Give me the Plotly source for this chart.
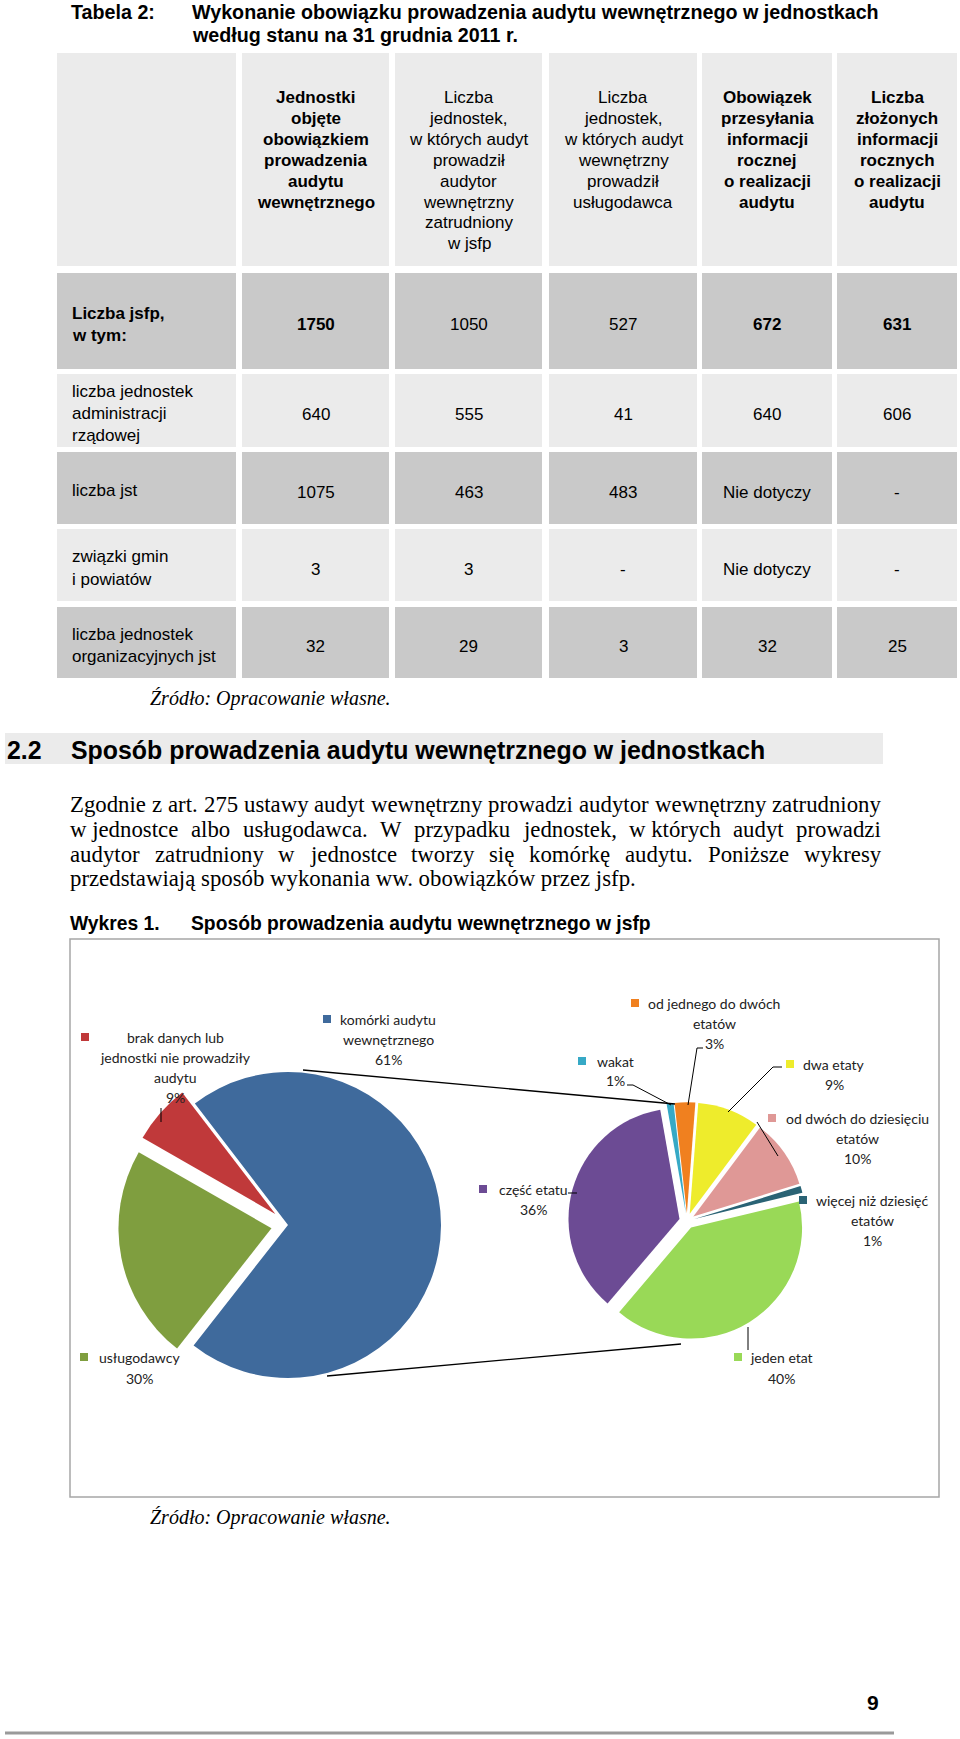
import plotly.graph_objects as go

W, H = 960, 1739

# ---------------- data ----------------
table_title = "Tabela 2:"
table_caption = ["Wykonanie obowiązku prowadzenia audytu wewnętrznego w jednostkach",
                 "według stanu na 31 grudnia 2011 r."]

header_cols = [
    ["Jednostki", "objęte", "obowiązkiem", "prowadzenia", "audytu", "wewnętrznego"],
    ["Liczba", "jednostek,", "w których audyt", "prowadził", "audytor", "wewnętrzny", "zatrudniony", "w jsfp"],
    ["Liczba", "jednostek,", "w których audyt", "wewnętrzny", "prowadził", "usługodawca"],
    ["Obowiązek", "przesyłania", "informacji", "rocznej", "o realizacji", "audytu"],
    ["Liczba", "złożonych", "informacji", "rocznych", "o realizacji", "audytu"],
]
header_bold = [True, False, False, True, True]

row_labels = [["Liczba jsfp,", "w tym:"],
              ["liczba jednostek", "administracji", "rządowej"],
              ["liczba jst"],
              ["związki gmin", "i powiatów"],
              ["liczba jednostek", "organizacyjnych jst"]]
col_objete = ["1750", "640", "1075", "3", "32"]
col_audytor = ["1050", "555", "463", "3", "29"]
col_uslugodawca = ["527", "41", "483", "-", "3"]
col_obowiazek = ["672", "640", "Nie dotyczy", "Nie dotyczy", "32"]
col_zlozone = ["631", "606", "-", "-", "25"]

# left pie (slice sizes as drawn) and its typed labels
left_names = ["komórki audytu wewnętrznego", "usługodawcy", "brak danych lub jednostki nie prowadziły audytu"]
left_values = [71.0, 22.7, 6.3]
left_labels_pct = ["61%", "30%", "9%"]
left_colors = ["#3f6a9c", "#7f9e3f", "#c0393a"]

# right pie
right_names = ["wakat", "od jednego do dwóch etatów", "dwa etaty", "od dwóch do dziesięciu etatów",
               "więcej niż dziesięć etatów", "jeden etat", "część etatu"]
right_values = [1, 3, 9, 10, 1, 40, 36]
right_colors = ["#36a9c6", "#f0801f", "#eeec2c", "#df9896", "#2a6375", "#99d957", "#6c4b94"]

paragraph = [
    ["Zgodnie", "z", "art.", "275", "ustawy", "audyt", "wewnętrzny", "prowadzi", "audytor", "wewnętrzny", "zatrudniony"],
    ["w jednostce", "albo", "usługodawca.", "W", "przypadku", "jednostek,", "w których", "audyt", "prowadzi"],
    ["audytor", "zatrudniony", "w", "jednostce", "tworzy", "się", "komórkę", "audytu.", "Poniższe", "wykresy"],
    ["przedstawiają sposób wykonania ww. obowiązków przez jsfp."],
]
justified = [True, True, True, False]

# ---------------- helpers ----------------
def X(x):
    return x / W

def Y(y):
    return 1 - y / H

SANS = "Liberation Sans, Arial, sans-serif"
SERIF = "Liberation Serif, Times New Roman, serif"
CAL = "Lato, Carlito, Calibri, sans-serif"

# Times / Liberation Serif advance widths (1/1000 em)
TW = {' ': 250, 'a': 444, 'b': 500, 'c': 444, 'd': 500, 'e': 444, 'f': 333, 'g': 500, 'h': 500, 'i': 278,
      'j': 278, 'k': 500, 'l': 278, 'm': 778, 'n': 500, 'o': 500, 'p': 500, 'q': 500, 'r': 333, 's': 389,
      't': 278, 'u': 500, 'v': 500, 'w': 722, 'x': 500, 'y': 500, 'z': 444, 'P': 556, 'W': 944, 'Z': 611,
      '.': 250, ',': 250, 'ł': 278, 'ę': 444, 'ą': 444, 'ó': 500, 'ż': 444, 'ś': 389, 'ń': 500, 'ć': 444,
      'ź': 444}

def tw(s, size):
    return sum(TW.get(c, 500) for c in s) * size / 1000.0

annotations = []
shapes = []

def txt(x, y, text, size=17, family=SANS, bold=False, italic=False, anchor="left", color="#000"):
    t = text
    if bold:
        t = "<b>" + t + "</b>"
    if italic:
        t = "<i>" + t + "</i>"
    annotations.append(dict(x=X(x), y=Y(y), xref="paper", yref="paper", text=t, showarrow=False,
                            xanchor=anchor, yanchor="middle", font=dict(size=size, family=family, color=color),
                            borderpad=0))

def rect(x0, y0, x1, y1, fill, line=None, lw=0):
    shapes.append(dict(type="rect", xref="paper", yref="paper", x0=X(x0), x1=X(x1), y0=Y(y1), y1=Y(y0),
                       fillcolor=fill, line=dict(width=lw, color=line or fill), layer="below"))

def seg(pts, color="#000", width=1):
    for (a, b), (c, d) in zip(pts[:-1], pts[1:]):
        shapes.append(dict(type="line", xref="paper", yref="paper", x0=X(a), y0=Y(b), x1=X(c), y1=Y(d),
                           line=dict(color=color, width=width), layer="above"))

# ---------------- title ----------------
txt(70, 12, table_title, size=19.7, bold=True)
txt(191, 12, table_caption[0], size=19.7, bold=True)
txt(191, 35, table_caption[1], size=19.7, bold=True)

# ---------------- table ----------------
col_edges = [(57, 236), (242, 389), (395, 542), (549, 697), (702, 832), (837, 957)]
row_edges = [(53, 266), (273, 369), (374, 447), (452, 524), (529, 601), (607, 678)]
LIGHT, DARK = "#ebebeb", "#c9c9c9"
for ri, (ya, yb) in enumerate(row_edges):
    fill = LIGHT if ri % 2 == 0 else DARK
    for (xa, xb) in col_edges:
        rect(xa, ya, xb, yb, fill)

for ci, lines in enumerate(header_cols):
    xa, xb = col_edges[ci + 1]
    for li, line in enumerate(lines):
        txt((xa + xb) / 2, 98 + li * 20.8, line, size=17, bold=header_bold[ci], anchor="center")

value_cols = [col_objete, col_audytor, col_uslugodawca, col_obowiazek, col_zlozone]
bold_first = [True, False, False, True, True]
for ri in range(5):
    ya, yb = row_edges[ri + 1]
    lines = row_labels[ri]
    cy = (ya + yb) / 2 + 3
    n = len(lines)
    for li, line in enumerate(lines):
        txt(71, cy + (li - (n - 1) / 2) * 22, line, size=17, bold=(ri == 0), anchor="left")
    for ci, col in enumerate(value_cols):
        xa, xb = col_edges[ci + 1]
        txt((xa + xb) / 2, cy + 1, col[ri], size=17, bold=(ri == 0 and bold_first[ci]), anchor="center")

txt(149, 698, "Źródło: Opracowanie własne.", size=20, family=SERIF, italic=True)

# ---------------- section heading ----------------
rect(5, 733, 883, 764, "#ebebeb")
txt(6, 750, "2.2", size=24.9, bold=True)
txt(70, 750, "Sposób prowadzenia audytu wewnętrznego w jednostkach", size=24.9, bold=True)

# ---------------- paragraph (justified) ----------------
L, R = 69, 880
PS = 22.8
line_y = [804, 829, 854, 879]
for words, just, yy in zip(paragraph, justified, line_y):
    if not just:
        txt(L, yy, " ".join(words), size=PS, family=SERIF, anchor="left")
        continue
    widths = [tw(w, PS) for w in words]
    gap = (R - L - sum(widths)) / (len(words) - 1)
    xx = L
    for w, wd in zip(words, widths):
        txt(xx, yy, w, size=PS, family=SERIF, anchor="left")
        xx += wd + gap

txt(69, 923, "Wykres 1.", size=19.3, bold=True)
txt(190, 923, "Sposób prowadzenia audytu wewnętrznego w jsfp", size=19.3, bold=True)

# ---------------- chart box ----------------
shapes.append(dict(type="rect", xref="paper", yref="paper", x0=X(70), x1=X(939), y0=Y(1497), y1=Y(939),
                   fillcolor="rgba(0,0,0,0)", line=dict(color="#a6a6a6", width=1.5), layer="below"))

# ---------------- pies ----------------
def dom(cx, cy, r, pull):
    s = r * (1 + pull)
    return dict(x=[X(cx - s), X(cx + s)], y=[Y(cy + s), Y(cy - s)])

fig = go.Figure()
fig.add_trace(go.Pie(
    labels=left_names, values=left_values, sort=False, direction="clockwise", rotation=322.5,
    marker=dict(colors=left_colors, line=dict(width=0)), pull=[0, 0.11, 0.11],
    textinfo="none", hoverinfo="skip", showlegend=False, domain=dom(288, 1225, 153, 0.11)))
fig.add_trace(go.Pie(
    labels=right_names, values=right_values, sort=False, direction="clockwise", rotation=350,
    marker=dict(colors=right_colors, line=dict(width=0)), pull=0.07,
    textinfo="none", hoverinfo="skip", showlegend=False, domain=dom(687, 1221, 111, 0.07)))

# connector lines between pies
seg([(303, 1070), (675, 1104)], width=1.3)
seg([(327, 1376), (681, 1344)], width=1.3)

# ---------------- pie labels ----------------
def pie_label(mx, cx, y0, lines, color, step=20):
    shapes.append(dict(type="rect", xref="paper", yref="paper", x0=X(mx - 4), x1=X(mx + 4),
                       y0=Y(y0 + 4), y1=Y(y0 - 4), fillcolor=color, line=dict(width=0), layer="above"))
    for i, ln in enumerate(lines):
        txt(cx, y0 + i * step, ln, size=14, family=CAL, anchor="center", color="#222")

pie_label(85, 175, 1037, ["brak danych lub", "jednostki nie prowadziły", "audytu", left_labels_pct[2]], left_colors[2])
pie_label(327, 388, 1019, ["komórki audytu", "wewnętrznego", left_labels_pct[0]], left_colors[0])
pie_label(84, 139, 1357, ["usługodawcy", left_labels_pct[1]], left_colors[1], step=21)

rp = [f"{v}%" for v in right_values]
pie_label(582, 615, 1061, ["wakat", rp[0]], right_colors[0], step=19)
pie_label(635, 714, 1003, ["od jednego do dwóch", "etatów", rp[1]], right_colors[1])
pie_label(790, 834, 1064, ["dwa etaty", rp[2]], right_colors[2])
pie_label(772, 857, 1118, ["od dwóch do dziesięciu", "etatów", rp[3]], right_colors[3])
pie_label(803, 872, 1200, ["więcej niż dziesięć", "etatów", rp[4]], right_colors[4])
pie_label(738, 781, 1357, ["jeden etat", rp[5]], right_colors[5], step=21)
pie_label(483, 533, 1189, ["część etatu", rp[6]], right_colors[6])

# leader lines
seg([(161, 1108), (161, 1122)])
seg([(627, 1085), (633, 1085), (671, 1105)])
seg([(703, 1048), (697, 1048), (688, 1105)])
seg([(782, 1067), (773, 1067), (728, 1112)])
seg([(757, 1122), (778, 1156)])
seg([(568, 1193), (577, 1193)])
seg([(748, 1327), (748, 1350)])

txt(149, 1517, "Źródło: Opracowanie własne.", size=20, family=SERIF, italic=True)

# ---------------- footer ----------------
txt(873, 1702, "9", size=21, bold=True, anchor="center")
shapes.append(dict(type="line", xref="paper", yref="paper", x0=X(5), x1=X(894), y0=Y(1733), y1=Y(1733),
                   line=dict(color="#9a9a9a", width=3)))

fig.update_layout(width=W, height=H, margin=dict(l=0, r=0, t=0, b=0), paper_bgcolor="white",
                  plot_bgcolor="white", annotations=annotations, shapes=shapes, showlegend=False)

fig.write_html("out.html", config={"displayModeBar": False},
               post_script="document.body.style.margin='0';document.body.style.overflow='hidden';")
